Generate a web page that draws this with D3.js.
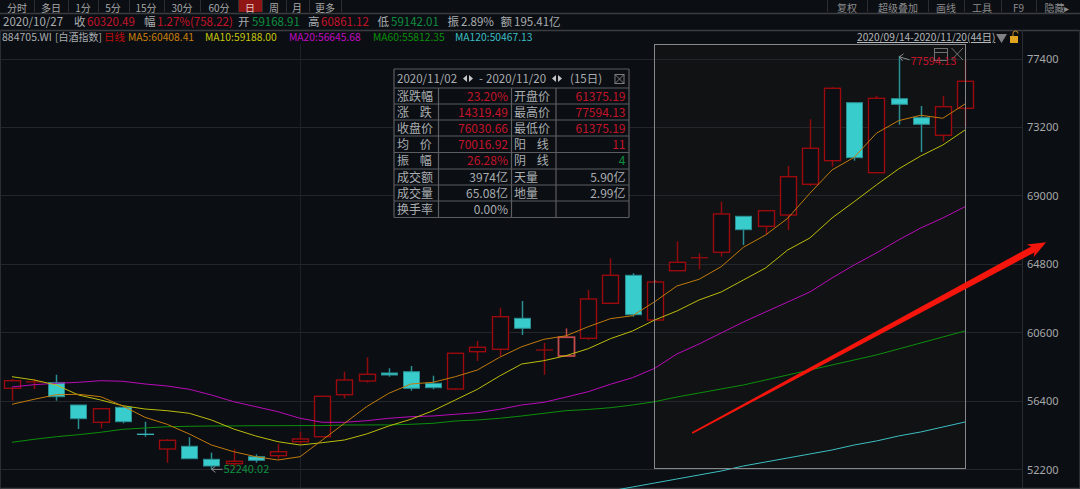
<!DOCTYPE html>
<html><head><meta charset="utf-8">
<script src="https://cdn.jsdelivr.net/npm/d3@7"></script>
<style>html,body{margin:0;padding:0;background:#0b0e13;overflow:hidden}svg{display:block}text{font-family:"Noto Sans CJK SC","Noto Sans",sans-serif}</style>
</head><body><svg id="c" width="1080" height="489"></svg>
<script>
const dates=["09/14","09/15","09/16","09/17","09/18","09/21","09/22","09/23","09/24","09/25","09/28","09/29","09/30","10/09","10/12","10/13","10/14","10/15","10/16","10/19","10/20","10/21","10/22","10/23","10/26","10/27","10/28","10/29","10/30","11/02","11/03","11/04","11/05","11/06","11/09","11/10","11/11","11/12","11/13","11/16","11/17","11/18","11/19","11/20"];
const open=[57185,57529,57529,56160,55098,56019,54365,53459,53625,52827,52556,52986,53048,53907,54214,56792,57633,58125,58204,57492,57142,59432,59579,61482,59530,59168.91,60255,62403,64122,61375.19,64405,65198,65534,67744,67130,67824,69709,71158,74718,70421,74964,73797,72717,74375];
const close=[57652,57633,56670,55319,55933,55135,54355,53993,52863,52415,52704,52765,53293,54073,56694,57695,58045,58002,57185,57222,59334,59702,61581,60869,59540,60320.49,62667,64122,61703,63711,64920,65208,67886,66922,68088,70175,71919,75602,71342,74988,74620,73392,74473,76030.66];
const high=[57756,57756,58020,56160,55933,56019,55135,54073,54177,53232,53441,53134,53766,54521,56694,58204,59088,58413,58554,57959,59334,60089,62133,62545,59985,60861.12,63220,65166,64245,63834,66209,65473,68641,67744,68088,70832,73699,75664,74718,75148,77594.13,74516,75130,77340];
const low=[56424,57142,56424,54687,54730,55036,54214,52618,52863,52240.02,52274,52618,52863,53766,54214,56571,57529,57897,57038,57124,57081,58861,59168,60457,58020,59142.01,60150,62403,61581,61375.19,64405,64491,65264,65982,66596,66903,69604,70789,71158,70421,73368,71692,72349,73245];
const ma5=[56203,56510,56792,56817,56670,56099,55405,54975,54380,53704,53293,52986,52784,52986,54011,55036,56056,56878,57449,57554,57897,58309,59088,59739,60193,60408.41,60967,61458,61642,62502,63465,63877,64650,65841,66596,67621,69156,70587,71366,72840,73613,73945,73761,74638];
const ma10=[57897,57695,57388,56774,56467,56117,55914,55810,55650,55239,54687,54257,53907,53704,53846,54011,54380,54871,55282,55810,56467,57124,57940,58677,58880,59188,59616,60231,60703,61378,61931,62606,63097,63834,64570,65675,66412,67640,68641,69666,70648,71446,72121,73042];
const ma20=[57265,57406,57492,57554,57652,57615,57449,57326,57124,56774,56362,56056,55749,55343,55098,55098,55196,55343,55442,55485,55589,55688,55896,56160,56326,56645.68,56976,57431,57836,58413,59291,59905,60580,61255,61869,62483,63097,63957,64755,65491,66289,67026,67640,68334];
const ma60=[53870,54054,54214,54337,54484,54668,54748,54828,54852,54871,54875,54890,54890,54895,54895,54932,54935,54938,54975,55036,55178,55239,55343,55485,55650,55812.35,55884,55994,56160,56362,56651,56897,57142,57388,57695,58002,58309,58616,58923,59230,59598,59966,60335,60703];
const ma120=[null,null,null,null,null,null,null,null,null,null,null,null,null,null,null,null,null,null,null,null,null,null,null,null,null,50467.13,50670,50880,51126,51372,51617,51863,52108,52415,52661,52906,53152,53397,53704,53950,54257,54503,54809,55116];
const yTicks=[77400,73200,69000,64800,60600,56400,52200];
const toolbarLeft=["分时","多日","1分","5分","15分","30分","60分","日","周","月","更多"];
const toolbarRight=["复权","超级叠加","画线","工具","F9","隐藏▸"];
const infoLabels=["收","幅","开","高","低","振","额"];
const infoValues=["60320.49","1.27%(758.22)","59168.91","60861.12","59142.01","2.89%","195.41亿"];
const legendNames=["MA5:60408.41","MA10:59188.00","MA20:56645.68","MA60:55812.35","MA120:50467.13"];
const tableRowsLeft=[["涨跌幅","23.20%"],["涨 跌","14319.49"],["收盘价","76030.66"],["均 价","70016.92"],["振 幅","26.28%"],["成交额","3974亿"],["成交量","65.08亿"],["换手率","0.00%"]];
const tableRowsRight=[["开盘价","61375.19"],["最高价","77594.13"],["最低价","61375.19"],["阳 线","11"],["阴 线","4"],["天量","5.90亿"],["地量","2.99亿"],["",""]];

const BG="#0b0e13",GRID="#23262b",LINE="#3a3c40",GREY="#a6a8aa",RED="#c4142a",GREEN="#0f8f3f";
const svg=d3.select("#c");
const x=d3.scaleLinear().domain([0,43]).range([12,965]);
const y=d3.scaleLinear().domain([52200,77400]).range([469.5,59]);
const px=v=>Math.round(v)+.5;
svg.append("rect").attr("width",1080).attr("height",489).attr("fill",BG);
svg.append("rect").attr("x",654.5).attr("y",44.5).attr("width",311).attr("height",424).attr("fill","#111214");
svg.append("g").selectAll("line").data(yTicks).join("line")
 .attr("x1",0).attr("x2",1022).attr("y1",d=>px(y(d)-.5)).attr("y2",d=>px(y(d)-.5)).attr("stroke",GRID);
svg.append("line").attr("x1",300.5).attr("x2",300.5).attr("y1",44).attr("y2",488).attr("stroke","#1e2126");
[[0,13,1080,13],[0,30,1080,30],[0,488,1080,488]].forEach(l=>svg.append("line").attr("x1",l[0]).attr("y1",l[1]+.5).attr("x2",l[2]).attr("y2",l[3]+.5).attr("stroke",LINE).attr("stroke-width",1.3));
svg.append("line").attr("x1",1022.5).attr("x2",1022.5).attr("y1",30).attr("y2",488).attr("stroke","#2a2d31");
svg.append("line").attr("x1",.5).attr("x2",.5).attr("y1",30).attr("y2",488).attr("stroke","#2a2d31");
svg.append("line").attr("x1",1079.5).attr("x2",1079.5).attr("y1",30).attr("y2",488).attr("stroke","#2a2d31");
const axis=d3.axisRight(y).tickValues(yTicks).tickSize(0).tickPadding(0).tickFormat(d3.format("d"));
const ag=svg.append("g").attr("transform","translate(1027,0)").call(axis);
ag.select(".domain").remove();
ag.selectAll("text").attr("fill",GREY).style("font-size","11px").style("font-family",'"Noto Sans","Noto Sans CJK SC"');
const idx=d3.range(dates.length);
const g=svg.append("g");
const cRed=i=>i===25?"#c24a4a":"#8e0b0e";
idx.forEach(i=>{
 const up=close[i]>=open[i],cx=px(x(i)),col=up?cRed(i):"#2a8f92";
 g.append("line").attr("x1",cx).attr("x2",cx).attr("y1",y(high[i])).attr("y2",y(low[i])).attr("stroke",col).attr("stroke-width",1.5);
 const t=y(Math.max(open[i],close[i])),b=y(Math.min(open[i],close[i])),h=b-t;
 if(h<2){g.append("line").attr("x1",cx-8.5).attr("x2",cx+8.5).attr("y1",t+h/2).attr("y2",t+h/2).attr("stroke",up?"#8e0b0e":"#35b4b6").attr("stroke-width",1.4);return;}
 g.append("rect").attr("x",cx-8).attr("y",t).attr("width",16).attr("height",h)
  .attr("fill",up?BG:"#39cccd").attr("stroke",up?(i===25?"#c24a4a":"#9a0a0e"):"#2a8f92").attr("stroke-width",up?(i===25?1.8:1.4):1);
});
const lineGen=d3.line().defined(d=>d!=null).x((d,i)=>x(i)).y(d=>y(d));
[[ma120,"#3bbfc2"],[ma60,"#0b8f0b"],[ma20,"#b80cb8"],[ma10,"#bcbc0c"],[ma5,"#c07a0c"]].forEach(s=>{
 svg.append("path").attr("d",lineGen(s[0])).attr("fill","none").attr("stroke",s[1]).attr("stroke-width",1);
});
svg.append("rect").attr("x",654.5).attr("y",44.5).attr("width",311).attr("height",424).attr("fill","none").attr("stroke","#85878a").attr("stroke-width",1);
svg.append("rect").attr("x",934.5).attr("y",48.5).attr("width",13).attr("height",12).attr("fill","none").attr("stroke","#6f7173");
svg.append("line").attr("x1",934.5).attr("x2",947.5).attr("y1",52.5).attr("y2",52.5).attr("stroke","#6f7173");
svg.append("path").attr("d","M951.5 48L963 60M963 48L951.5 60").attr("stroke","#6f7173").attr("fill","none");
const hiI=d3.maxIndex(high),loI=d3.minIndex(low);
svg.append("path").attr("d",`M${x(hiI)+1} ${y(high[hiI])+1}l10 3M${x(hiI)+1} ${y(high[hiI])+1}l4 -3M${x(hiI)+1} ${y(high[hiI])+1}l3 4`).attr("stroke","#8a8c8e").attr("fill","none");
svg.append("text").attr("x",x(hiI)+12).attr("y",y(high[hiI])+9).attr("fill",RED).style("font-size","11px").text(d3.format(".2f")(high[hiI]));
svg.append("path").attr("d",`M${x(loI)} ${y(low[loI])+.5}h11M${x(loI)} ${y(low[loI])+.5}l4 -3M${x(loI)} ${y(low[loI])+.5}l4 3`).attr("stroke","#8a8c8e").attr("fill","none");
svg.append("text").attr("x",x(loI)+12).attr("y",y(low[loI])+4.5).attr("fill",GREEN).style("font-size","11px").text(d3.format(".2f")(low[loI]));
const arrowFrom=[30.69,54441],arrowTo=[46.66,66148];
(function(){
 const a=[x(arrowFrom[0]),y(arrowFrom[1])],b=[x(arrowTo[0]),y(arrowTo[1])];
 const dx=b[0]-a[0],dy=b[1]-a[1],L=Math.hypot(dx,dy),u=[dx/L,dy/L],n=[-u[1],u[0]];
 const P=(d,w)=>[a[0]+u[0]*d+n[0]*w,a[1]+u[1]*d+n[1]*w];
 const hd=L-15;
 const pts=[P(0,.8),P(hd,3.4),P(hd-3,7.2),P(L,0),P(hd-3,-7.2),P(hd,-3.4),P(0,-.8)];
 svg.append("polygon").attr("points",pts.map(p=>p.join(",")).join(" ")).attr("fill","#f4150c");
})();
const tc=[17,51,83,113,146,182,219,250,274,297,325],ts=[34,68,98,129,164,200,238,262,286,309,341];
svg.append("rect").attr("x",238).attr("y",0).attr("width",24).attr("height",12).attr("fill","#8f1614");
ts.forEach(s=>svg.append("line").attr("x1",s+.5).attr("x2",s+.5).attr("y1",0).attr("y2",12).attr("stroke","#2c2e32"));
toolbarLeft.forEach((t,i)=>svg.append("text").attr("x",tc[i]).attr("y",11.7).attr("text-anchor","middle").attr("fill",i===7?"#e8c8c0":"#a8a8a8").style("font-size","10px").text(t));
const rc=[847,898,946,982,1018.5,1057],rs=[827,867,928,964,1001,1036];
rs.forEach(s=>svg.append("line").attr("x1",s+.5).attr("x2",s+.5).attr("y1",0).attr("y2",12).attr("stroke","#2c2e32"));
toolbarRight.forEach((t,i)=>svg.append("text").attr("x",rc[i]).attr("y",11.7).attr("text-anchor","middle").attr("fill","#8c8c8c").style("font-size","10px").text(t));
const T=(xp,yp,t,fill,size)=>svg.append("text").attr("x",xp).attr("y",yp).attr("fill",fill).style("font-size",(size||11.5)+"px").text(t);
T(3,26,"2020/10/27","#a9adb0");
const lx=[74,144,238,308,377.5,447.5,500.5],vx=[87,157,252,321,391,461,514],vc=[RED,RED,GREEN,RED,GREEN,"#a9adb0","#a9adb0"];
infoLabels.forEach((t,i)=>{T(lx[i],26,t,"#a9adb0");T(vx[i],26,infoValues[i],vc[i]);});
T(2,41,"884705.WI","#a9adb0",10.5);T(55,41,"[白酒指数]","#a9adb0",10);T(104,41,"日线","#c00c0c",10.5);
const mx=[128,205,289,373,455],mc=["#c9800c","#c8c80c","#c00cc0","#0b8f0b","#3bbfc2"];
legendNames.forEach((t,i)=>T(mx[i],41,t,mc[i],10.3));
T(857,41,"2020/09/14-2020/11/20(44日)","#b4b6b8",10.2).attr("text-decoration","underline");
svg.append("path").attr("d","M996 34h11l-5.5 9z").attr("fill","#7f8184");
svg.append("rect").attr("x",1010).attr("y",36).attr("width",8).attr("height",7).attr("fill","#e0a51e");
svg.append("path").attr("d","M1013 36v-2.5a2.5 2.5 0 0 1 5 0").attr("fill","none").attr("stroke","#c88a20");
const colX=[394,438.5,511.5,556,629],rowY=[69,88,104,120,136,152.5,169,185,201,217.5];
const tb=svg.append("g");
tb.append("rect").attr("x",colX[0]).attr("y",rowY[0]).attr("width",colX[4]-colX[0]).attr("height",rowY[9]-rowY[0]).attr("fill",BG);
rowY.forEach(r=>tb.append("line").attr("x1",colX[0]).attr("x2",colX[4]).attr("y1",r).attr("y2",r).attr("stroke","#5b5d60").attr("stroke-width",1.2));
colX.forEach((c,i)=>tb.append("line").attr("x1",c).attr("x2",c).attr("y1",(i===0||i===4)?rowY[0]:rowY[1]).attr("y2",rowY[9]).attr("stroke","#5b5d60").attr("stroke-width",1.2));
[[397,"2020/11/02"],[479,"-"],[486,"2020/11/20"],[570,"(15日)"]].forEach(p=>tb.append("text").attr("x",p[0]).attr("y",83).attr("fill","#a9adb0").style("font-size","11.5px").text(p[1]));
[463,552].forEach(ax=>tb.append("path").attr("d",`M${ax+4} 75l-4 3.5l4 3.5zM${ax+6} 75l4 3.5l-4 3.5z`).attr("fill","#c4c6c8"));
tb.append("rect").attr("x",615).attr("y",74.5).attr("width",9).attr("height",9).attr("fill","none").attr("stroke","#7a7c7e");
tb.append("path").attr("d","M615 74.5l9 9M624 74.5l-9 9").attr("stroke","#7a7c7e");
const colours=[RED,RED,RED,RED,RED,"#a9adb0","#a9adb0","#a9adb0"];
const coloursR=[RED,RED,RED,RED,GREEN,"#a9adb0","#a9adb0","#a9adb0"];
tableRowsLeft.forEach((r,i)=>{
 const by=rowY[i+1]+12.5;
 tb.append("text").attr("x",397).attr("y",by).attr("fill","#a9adb0").style("font-size","12px").style("word-spacing","8px").text(r[0]);
 tb.append("text").attr("x",508).attr("y",by).attr("text-anchor","end").attr("fill",colours[i]).style("font-size","12px").text(r[1]);
 tb.append("text").attr("x",514).attr("y",by).attr("fill","#a9adb0").style("font-size","12px").style("word-spacing","8px").text(tableRowsRight[i][0]);
 tb.append("text").attr("x",625.5).attr("y",by).attr("text-anchor","end").attr("fill",coloursR[i]).style("font-size","12px").text(tableRowsRight[i][1]);
});
</script></body></html>
